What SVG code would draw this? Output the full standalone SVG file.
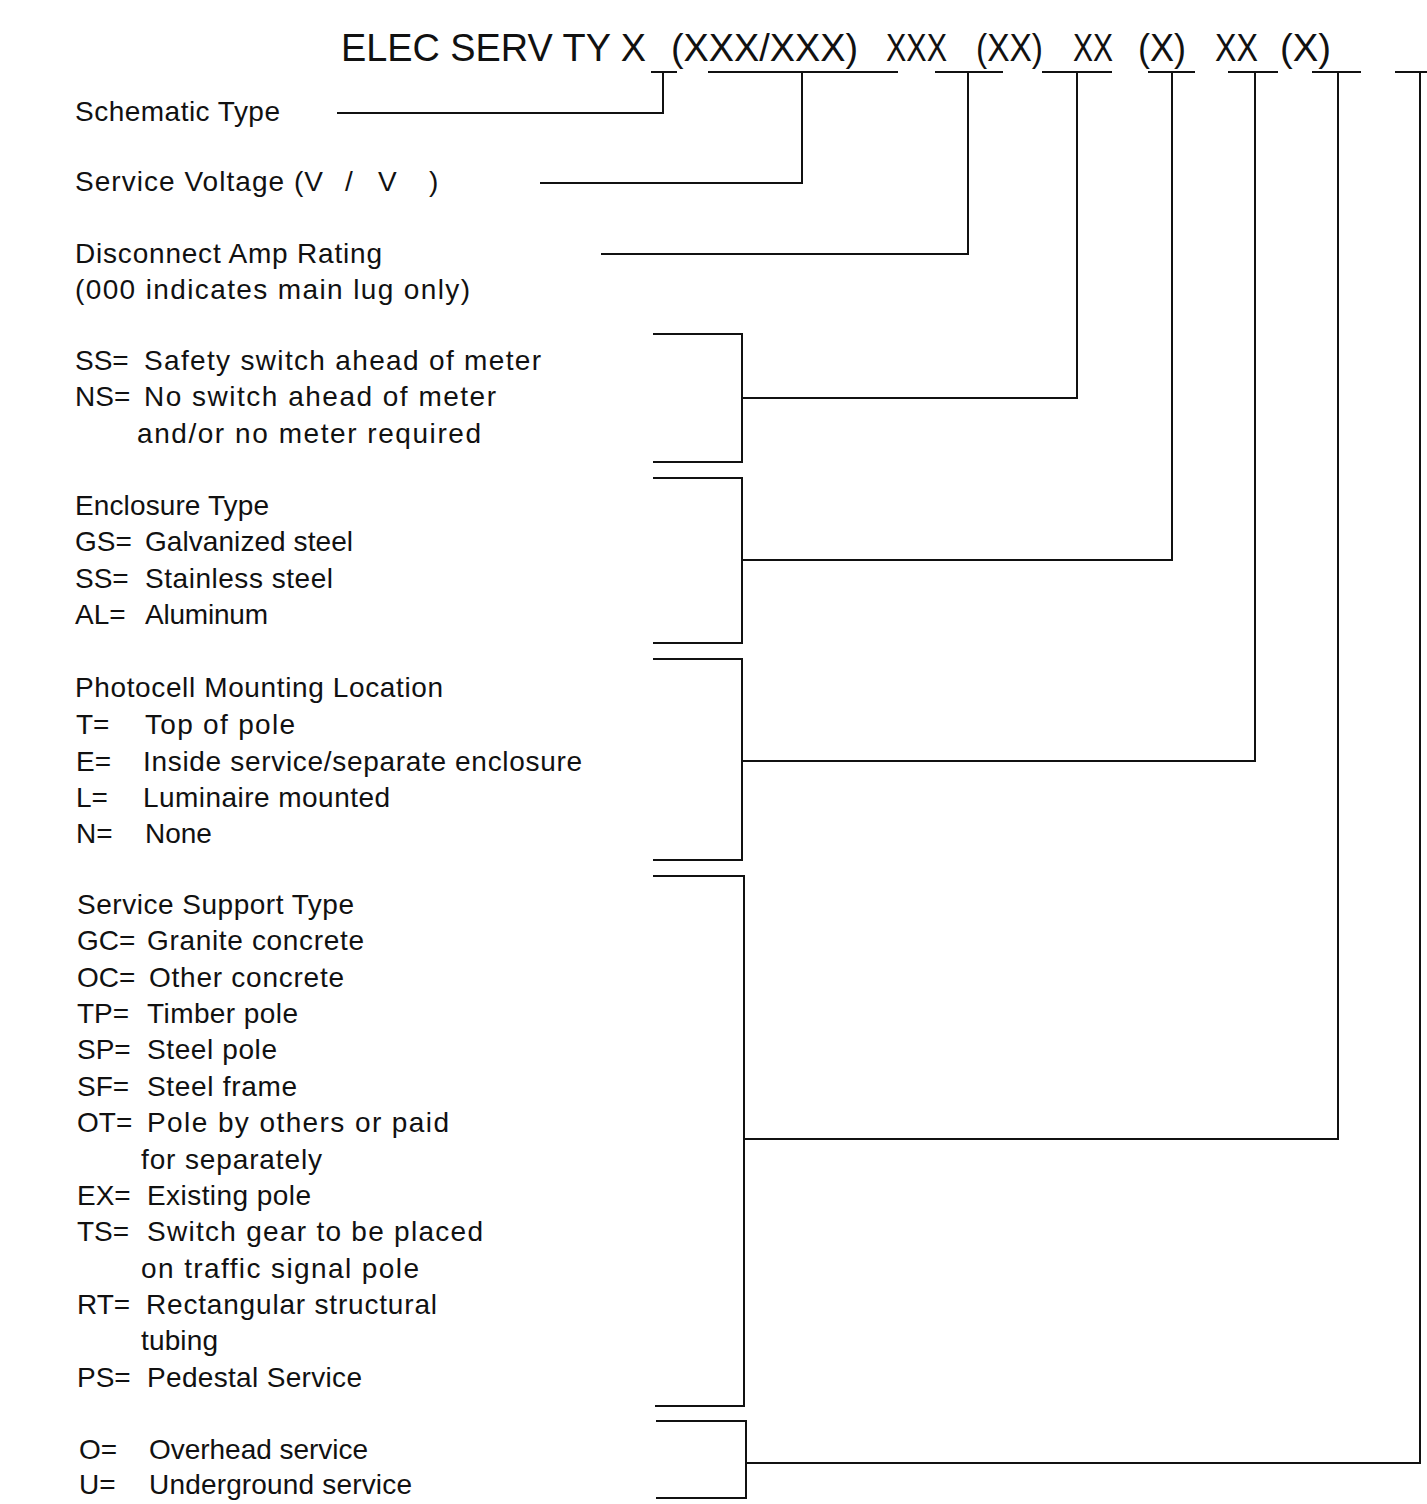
<svg xmlns="http://www.w3.org/2000/svg" width="1427" height="1504" viewBox="0 0 1427 1504">
<style>
  .t { font-family: "Liberation Sans", Arial, sans-serif; font-size: 28px; fill: #111; }
  .h { font-family: "Liberation Sans", Arial, sans-serif; font-size: 38px; fill: #111; }
  .c { fill: none; stroke: #111; stroke-width: 2; stroke-linejoin: miter; }
</style>
<rect width="1427" height="1504" fill="#fff"/>

<g id="title">
  <text class="h" y="61">
    <tspan x="341" textLength="305" lengthAdjust="spacingAndGlyphs">ELEC SERV TY X</tspan>
    <tspan x="671" textLength="187" lengthAdjust="spacingAndGlyphs">(XXX/XXX)</tspan>
    <tspan x="886" textLength="61" lengthAdjust="spacingAndGlyphs">XXX</tspan>
    <tspan x="976" textLength="67" lengthAdjust="spacingAndGlyphs">(XX)</tspan>
    <tspan x="1073" textLength="40" lengthAdjust="spacingAndGlyphs">XX</tspan>
    <tspan x="1138" textLength="48" lengthAdjust="spacingAndGlyphs">(X)</tspan>
    <tspan x="1215" textLength="43" lengthAdjust="spacingAndGlyphs">XX</tspan>
    <tspan x="1280" textLength="51" lengthAdjust="spacingAndGlyphs">(X)</tspan>
  </text>
</g>

<g id="schematic-type">
  <text class="t" x="75" y="121" textLength="205">Schematic Type</text>
</g>

<g id="service-voltage">
  <text class="t" y="191"><tspan x="75" textLength="248">Service Voltage (V</tspan><tspan x="345">/</tspan><tspan x="378">V</tspan><tspan x="429">)</tspan></text>
</g>

<g id="disconnect-amp-rating">
  <text class="t" x="75" y="263" textLength="307">Disconnect Amp Rating</text>
  <text class="t" x="75" y="299" textLength="395">(000 indicates main lug only)</text>
</g>

<g id="meter-switch">
  <text class="t" y="370"><tspan x="75">SS=</tspan><tspan x="144" textLength="397">Safety switch ahead of meter</tspan></text>
  <text class="t" y="406"><tspan x="75">NS=</tspan><tspan x="144" textLength="352">No switch ahead of meter</tspan></text>
  <text class="t" x="137" y="443" textLength="344">and/or no meter required</text>
</g>

<g id="enclosure-type">
  <text class="t" x="75" y="515" textLength="194">Enclosure Type</text>
  <text class="t" y="551"><tspan x="75">GS=</tspan><tspan x="145" textLength="208">Galvanized steel</tspan></text>
  <text class="t" y="588"><tspan x="75">SS=</tspan><tspan x="145" textLength="188">Stainless steel</tspan></text>
  <text class="t" y="624"><tspan x="75">AL=</tspan><tspan x="145" textLength="123">Aluminum</tspan></text>
</g>

<g id="photocell-location">
  <text class="t" x="75" y="697" textLength="368">Photocell Mounting Location</text>
  <text class="t" y="734"><tspan x="76">T=</tspan><tspan x="145" textLength="150">Top of pole</tspan></text>
  <text class="t" y="771"><tspan x="76">E=</tspan><tspan x="143" textLength="439">Inside service/separate enclosure</tspan></text>
  <text class="t" y="807"><tspan x="76">L=</tspan><tspan x="143" textLength="247">Luminaire mounted</tspan></text>
  <text class="t" y="843"><tspan x="76">N=</tspan><tspan x="145">None</tspan></text>
</g>

<g id="service-support-type">
  <text class="t" x="77" y="914" textLength="277">Service Support Type</text>
  <text class="t" y="950"><tspan x="77">GC=</tspan><tspan x="147" textLength="217">Granite concrete</tspan></text>
  <text class="t" y="987"><tspan x="77">OC=</tspan><tspan x="149" textLength="195">Other concrete</tspan></text>
  <text class="t" y="1023"><tspan x="77">TP=</tspan><tspan x="147" textLength="151">Timber pole</tspan></text>
  <text class="t" y="1059"><tspan x="77">SP=</tspan><tspan x="147" textLength="130">Steel pole</tspan></text>
  <text class="t" y="1096"><tspan x="77">SF=</tspan><tspan x="147" textLength="150">Steel frame</tspan></text>
  <text class="t" y="1132"><tspan x="77">OT=</tspan><tspan x="147" textLength="302">Pole by others or paid</tspan></text>
  <text class="t" x="141" y="1169" textLength="181">for separately</text>
  <text class="t" y="1205"><tspan x="77">EX=</tspan><tspan x="147" textLength="164">Existing pole</tspan></text>
  <text class="t" y="1241"><tspan x="77">TS=</tspan><tspan x="147" textLength="336">Switch gear to be placed</tspan></text>
  <text class="t" x="141" y="1278" textLength="278">on traffic signal pole</text>
  <text class="t" y="1314"><tspan x="77">RT=</tspan><tspan x="146" textLength="291">Rectangular structural</tspan></text>
  <text class="t" x="141" y="1350" textLength="77">tubing</text>
  <text class="t" y="1387"><tspan x="77">PS=</tspan><tspan x="147" textLength="215">Pedestal Service</tspan></text>
</g>

<g id="service-type">
  <text class="t" y="1459"><tspan x="79">O=</tspan><tspan x="149" textLength="219">Overhead service</tspan></text>
  <text class="t" y="1494"><tspan x="79">U=</tspan><tspan x="149" textLength="263">Underground service</tspan></text>
</g>

<g id="connectors">
  <!-- schematic type -->
  <line class="c" x1="651" y1="72" x2="677" y2="72"/>
  <polyline class="c" points="337,113 663,113 663,72"/>
  <!-- service voltage -->
  <line class="c" x1="708" y1="72" x2="898" y2="72"/>
  <polyline class="c" points="540,183 802,183 802,72"/>
  <!-- disconnect amp rating -->
  <line class="c" x1="935" y1="72" x2="1003" y2="72"/>
  <polyline class="c" points="601,254 968,254 968,72"/>
  <!-- meter switch -->
  <line class="c" x1="1042" y1="72" x2="1112" y2="72"/>
  <polyline class="c" points="653,334 742,334 742,462 653,462"/>
  <polyline class="c" points="742,398 1077,398 1077,72"/>
  <!-- enclosure type -->
  <line class="c" x1="1148" y1="72" x2="1195" y2="72"/>
  <polyline class="c" points="653,478 742,478 742,643 653,643"/>
  <polyline class="c" points="742,560 1172,560 1172,72"/>
  <!-- photocell -->
  <line class="c" x1="1228" y1="72" x2="1278" y2="72"/>
  <polyline class="c" points="653,659 742,659 742,860 653,860"/>
  <polyline class="c" points="742,761 1255,761 1255,72"/>
  <!-- service support -->
  <line class="c" x1="1312" y1="72" x2="1361" y2="72"/>
  <polyline class="c" points="653,876 744,876 744,1406 655,1406"/>
  <polyline class="c" points="744,1139 1338,1139 1338,72"/>
  <!-- service type -->
  <line class="c" x1="1395" y1="72" x2="1427" y2="72"/>
  <polyline class="c" points="656,1421 746,1421 746,1498 656,1498"/>
  <polyline class="c" points="746,1463 1420,1463 1420,72"/>
</g>
</svg>
